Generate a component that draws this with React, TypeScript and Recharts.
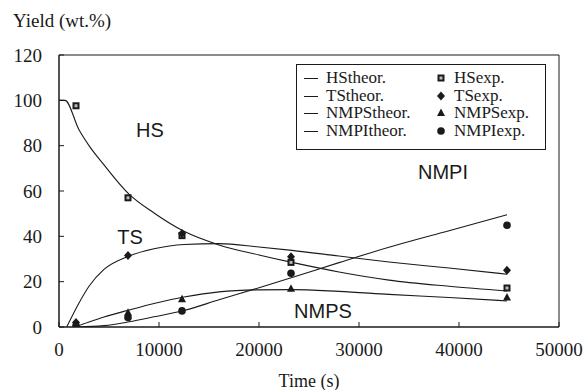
import {
  ComposedChart,
  Line,
  Scatter,
  XAxis,
  YAxis,
  ReferenceArea,
  ReferenceDot,
} from "recharts";

// theoretical curves (time in s, yield in wt.%)
const hsTheorTime = [0, 600, 2000, 3000, 4500, 7000, 9500, 12500, 16000, 20000, 23300, 28000, 33000, 39000, 44800];
const hsTheor = [100, 100, 87, 80, 71.5, 58.6, 50.3, 42.2, 36.2, 31.8, 28.5, 24.3, 20.7, 18, 15.9];

const tsTheorTime = [770, 2000, 3000, 4500, 7000, 9500, 12500, 16000, 20000, 23300, 28000, 33000, 39000, 44800];
const tsTheor = [0, 10.6, 18, 25.4, 31.3, 34.5, 36.4, 36.8, 35.3, 33.8, 31.3, 28.7, 26, 23.3];

const nmpsTheorTime = [1600, 3000, 4500, 7000, 9500, 12500, 16000, 20000, 23300, 28000, 33000, 39000, 44800];
const nmpsTheor = [0, 2.2, 4.4, 7.5, 10.4, 13.2, 15.5, 16.4, 16.5, 15.7, 14.4, 13, 11.5];

const nmpiTheorTime = [1800, 4500, 7000, 9500, 12500, 16000, 20000, 23300, 28000, 33000, 39000, 44800];
const nmpiTheor = [0, 0.6, 2.3, 4.5, 7.3, 12, 17.3, 21.8, 28.4, 35.2, 42.5, 49.5];

// experimental points
const expTime = [1700, 6900, 12300, 23200, 44800];
const hsExp = [97.6, 57, 40.3, 28.5, 17.2];
const tsExp = [2, 31.5, 41.2, 31, 25];
const nmpsExp = [1, 6.3, 12.2, 16.9, 13];
const nmpiExp = [0.5, 4.2, 7.1, 23.7, 44.9];

const xTicks = [0, 10000, 20000, 30000, 40000, 50000];
const yTicks = [0, 20, 40, 60, 80, 100, 120];

// curve labels inside the plot
const curveLabels = [
  { name: "HS", t: 9100, v: 86.8 },
  { name: "TS", t: 7100, v: 39.6 },
  { name: "NMPS", t: 26400, v: 6.9 },
  { name: "NMPI", t: 38400, v: 68.3 },
];

const zip = (ts: number[], vs: number[]) => ts.map((t, i) => ({ t, v: vs[i] }));

const INK = "#1a1a1a";
const SERIF = '"Liberation Serif", "Times New Roman", serif';
const SANS = '"Liberation Sans", Arial, sans-serif';

function SquareMark({ cx, cy }: { cx?: number; cy?: number }) {
  if (cx == null || cy == null) return null;
  return (
    <g>
      <rect x={cx - 3.5} y={cy - 3.5} width={7} height={7} fill={INK} />
      <rect x={cx - 1.5} y={cy - 1.5} width={3} height={3} fill="#bbb" />
    </g>
  );
}

function DiamondMark({ cx, cy }: { cx?: number; cy?: number }) {
  if (cx == null || cy == null) return null;
  return <path d={`M${cx},${cy - 4.5}L${cx + 4},${cy}L${cx},${cy + 4.5}L${cx - 4},${cy}Z`} fill={INK} />;
}

function TriangleMark({ cx, cy }: { cx?: number; cy?: number }) {
  if (cx == null || cy == null) return null;
  return <path d={`M${cx},${cy - 4.5}L${cx + 4},${cy + 3}L${cx - 4},${cy + 3}Z`} fill={INK} />;
}

function CircleMark({ cx, cy }: { cx?: number; cy?: number }) {
  if (cx == null || cy == null) return null;
  return <circle cx={cx} cy={cy} r={3.8} fill={INK} />;
}

const legendRows = [
  { line: "HStheor.", exp: "HSexp.", Mark: SquareMark },
  { line: "TStheor.", exp: "TSexp.", Mark: DiamondMark },
  { line: "NMPStheor.", exp: "NMPSexp.", Mark: TriangleMark },
  { line: "NMPItheor.", exp: "NMPIexp.", Mark: CircleMark },
];

function LegendBox() {
  return (
    <div
      style={{
        position: "absolute",
        left: 296,
        top: 64,
        width: 250,
        height: 86,
        border: `1px solid ${INK}`,
        boxSizing: "border-box",
        fontFamily: SERIF,
        fontSize: 17,
        color: INK,
        paddingTop: 4,
      }}
    >
      {legendRows.map((r) => (
        <div key={r.line} style={{ position: "relative", height: 17.7, lineHeight: "17px" }}>
          <div style={{ position: "absolute", left: 7, top: 9, width: 14, height: 1, background: INK }} />
          <span style={{ position: "absolute", left: 29, top: 0 }}>{r.line}</span>
          <svg style={{ position: "absolute", left: 139, top: 0 }} width={12} height={18}>
            <r.Mark cx={5} cy={9} />
          </svg>
          <span style={{ position: "absolute", left: 157, top: 0 }}>{r.exp}</span>
        </div>
      ))}
    </div>
  );
}

export default function App() {
  const tickStyle = { fontSize: 19, fontFamily: SERIF, fill: INK };
  return (
    <div style={{ position: "absolute", left: 0, top: 0, width: 583, height: 390, background: "#fff" }}>
      <div
        style={{
          position: "absolute",
          left: 13,
          top: 10,
          fontFamily: SERIF,
          fontSize: 19,
          color: INK,
          lineHeight: "22px",
        }}
      >
        Yield (wt.%)
      </div>
      <ComposedChart width={583} height={390} margin={{ top: 55, right: 24, bottom: 0, left: 0 }}>
        <XAxis
          type="number"
          dataKey="t"
          domain={[0, 50000]}
          ticks={xTicks}
          allowDataOverflow
          height={63}
          tick={tickStyle}
          tickSize={-5}
          tickMargin={21}
          axisLine={{ stroke: INK }}
          tickLine={{ stroke: INK }}
          label={{ value: "Time (s)", position: "insideBottom", offset: 3, fontSize: 18, fontFamily: SERIF, fill: INK }}
        />
        <YAxis
          type="number"
          domain={[0, 120]}
          ticks={yTicks}
          allowDataOverflow
          width={59}
          tick={tickStyle}
          tickSize={-5}
          tickMargin={22}
          axisLine={{ stroke: INK }}
          tickLine={{ stroke: INK }}
        />
        <ReferenceArea x1={0} x2={50000} y1={0} y2={120} fill="none" stroke={INK} strokeWidth={1} />

        <Line data={zip(hsTheorTime, hsTheor)} dataKey="v" type="monotone" stroke={INK} strokeWidth={1.1} dot={false} isAnimationActive={false} />
        <Line data={zip(tsTheorTime, tsTheor)} dataKey="v" type="monotone" stroke={INK} strokeWidth={1.1} dot={false} isAnimationActive={false} />
        <Line data={zip(nmpsTheorTime, nmpsTheor)} dataKey="v" type="monotone" stroke={INK} strokeWidth={1.1} dot={false} isAnimationActive={false} />
        <Line data={zip(nmpiTheorTime, nmpiTheor)} dataKey="v" type="monotone" stroke={INK} strokeWidth={1.1} dot={false} isAnimationActive={false} />

        <Scatter data={zip(expTime, hsExp)} dataKey="v" shape={(p: any) => <SquareMark cx={p.cx} cy={p.cy} />} isAnimationActive={false} />
        <Scatter data={zip(expTime, tsExp)} dataKey="v" shape={(p: any) => <DiamondMark cx={p.cx} cy={p.cy} />} isAnimationActive={false} />
        <Scatter data={zip(expTime, nmpsExp)} dataKey="v" shape={(p: any) => <TriangleMark cx={p.cx} cy={p.cy} />} isAnimationActive={false} />
        <Scatter data={zip(expTime, nmpiExp)} dataKey="v" shape={(p: any) => <CircleMark cx={p.cx} cy={p.cy} />} isAnimationActive={false} />

        {curveLabels.map((c) => (
          <ReferenceDot
            key={c.name}
            x={c.t}
            y={c.v}
            r={0}
            stroke="none"
            fill="none"
            label={{ value: c.name, position: "center", fontSize: 20, fontFamily: SANS, fill: INK }}
          />
        ))}
      </ComposedChart>
      <LegendBox />
    </div>
  );
}
